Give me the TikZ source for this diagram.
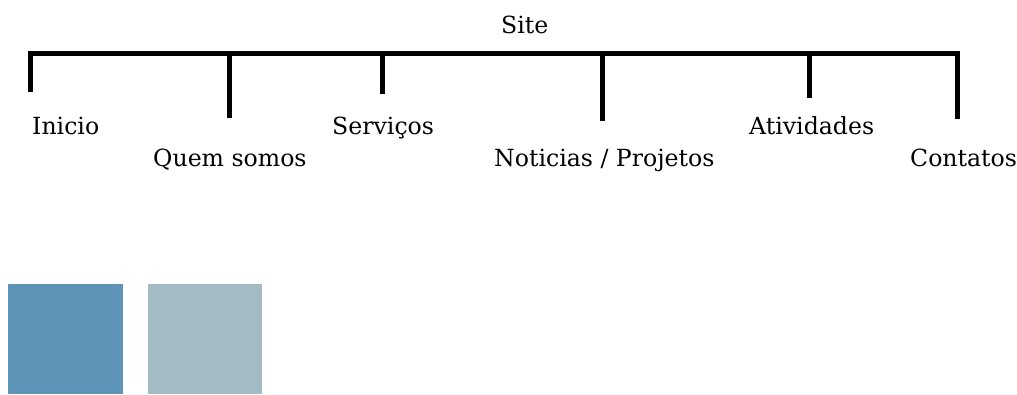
\documentclass[tikz,border=0pt]{standalone}
\usepackage{fontspec}
\setmainfont{DejaVu Serif}
\definecolor{sqA}{HTML}{5E94B6}
\definecolor{sqB}{HTML}{A3BCC4}
\begin{document}
\begin{tikzpicture}[x=1pt,y=-1pt,
  lbl/.style={anchor=base west,inner sep=0pt,font=\fontsize{23.6}{27}\selectfont},
  bar/.style={line width=5pt,line cap=butt,line join=miter}]
\useasboundingbox (0,0) rectangle (1017,394);
% labels
\node[lbl] (site) at (501,33) {Site};
\node[lbl] (ini) at (32,134) {Inicio};
\node[lbl] (quem) at (153,166) {Quem somos};
\node[lbl] (serv) at (332,134) {Serviços};
\node[lbl] (noti) at (494,166) {Noticias / Projetos};
\node[lbl] (ativ) at (749,134) {Atividades};
\node[lbl] (cont) at (910,166) {Contatos};
% bar coordinates
\coordinate (b1) at (30.5,53);
\coordinate (b2) at (229.5,53);
\coordinate (b3) at (382.5,53);
\coordinate (b4) at (602.5,53);
\coordinate (b5) at (809,53);
\coordinate (b6) at (957,53);
\coordinate (e1) at (30.5,92);
\coordinate (e2) at (229.5,118);
\coordinate (e3) at (382.5,94);
\coordinate (e4) at (602.5,121);
\coordinate (e5) at (809,98);
\coordinate (e6) at (957,119);
\draw[bar] (e1) -- (b1) -- (b6) -- (e6);
\draw[bar] (b2) -- (e2);
\draw[bar] (b3) -- (e3);
\draw[bar] (b4) -- (e4);
\draw[bar] (b5) -- (e5);
% squares
\fill[sqA] (8,284) rectangle (123,394);
\fill[sqB] (148,284) rectangle (262,394);
\end{tikzpicture}
\end{document}
